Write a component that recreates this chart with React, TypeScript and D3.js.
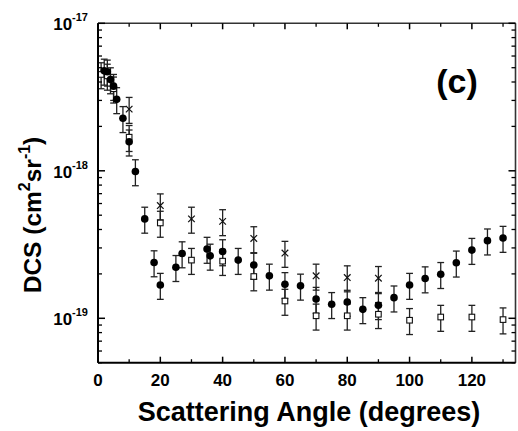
import React from 'react';
import * as d3 from 'd3';

// filled circles
const circAngles = [2, 3, 4, 5, 6, 8, 10, 12, 15, 18, 20, 25, 27, 35, 36, 40, 45, 50, 55, 60, 65, 70, 75, 80, 85, 90, 95, 100, 105, 110, 115, 120, 125, 130];
const circDCS = [4.76e-18, 4.69e-18, 4.16e-18, 3.75e-18, 3.05e-18, 2.27e-18, 1.575e-18, 9.9e-19, 4.72e-19, 2.39e-19, 1.68e-19, 2.22e-19, 2.75e-19, 2.95e-19, 2.65e-19, 2.84e-19, 2.48e-19, 2.3e-19, 1.94e-19, 1.7e-19, 1.66e-19, 1.35e-19, 1.245e-19, 1.29e-19, 1.15e-19, 1.225e-19, 1.38e-19, 1.68e-19, 1.86e-19, 1.99e-19, 2.38e-19, 2.9e-19, 3.36e-19, 3.5e-19];

// open squares
const sqAngles = [1, 3, 5, 10, 20, 30, 40, 50, 60, 70, 80, 90, 100, 110, 120, 130];
const sqDCS = [4.5e-18, 4.4e-18, 3.6e-18, 1.69e-18, 4.43e-19, 2.48e-19, 2.44e-19, 1.92e-19, 1.31e-19, 1.04e-19, 1.04e-19, 1.065e-19, 9.7e-20, 1.02e-19, 1.02e-19, 9.8e-20];

// crosses
const crossAngles = [10, 20, 30, 40, 50, 60, 70, 80, 90];
const crossDCS = [2.62e-18, 5.81e-19, 4.72e-19, 4.54e-19, 3.48e-19, 2.77e-19, 1.94e-19, 1.89e-19, 1.87e-19];

// relative uncertainty shown by the error bars (~20%)
const REL_ERR = 0.2;

const xTicks = [0, 20, 40, 60, 80, 100, 120];
const xMinor = [10, 30, 50, 70, 90, 110, 130];
const yMajor = [1e-19, 1e-18, 1e-17];
const yExp = ['-19', '-18', '-17'];

const W = 518;
const H = 431;
const FONT = "'Liberation Sans', Arial, Helvetica, sans-serif";

const App = () => {
  const x = d3.scaleLinear().domain([0, 134]).range([98, 515.5]);
  const y = d3.scaleLog().domain([5e-20, 1e-17]).range([362.7, 23.3]);
  const [x0, x1] = x.range();
  const [y0, y1] = y.range();
  const yMinor = y.ticks().filter(v => !yMajor.some(m => Math.abs(m - v) / m < 1e-6));

  const errBar = (a: number, v: number, key: string) => {
    const cx = x(a);
    const top = y(v * (1 + REL_ERR));
    const bot = y(v * (1 - REL_ERR));
    return (
      <g key={key} stroke="#222" strokeWidth={1.3}>
        <line x1={cx} x2={cx} y1={top} y2={bot} />
        <line x1={cx - 3.4} x2={cx + 3.4} y1={top} y2={top} />
        <line x1={cx - 3.4} x2={cx + 3.4} y1={bot} y2={bot} />
      </g>
    );
  };

  return (
    <div style={{ position: 'absolute', left: 0, top: 0 }}>
      <svg width={W} height={H} style={{ display: 'block', background: '#fff' }} fontFamily={FONT}>
        {/* error bars */}
        {crossAngles.map((a, i) => errBar(a, crossDCS[i], 'ce' + i))}
        {sqAngles.map((a, i) => errBar(a, sqDCS[i], 'se' + i))}
        {circAngles.map((a, i) => errBar(a, circDCS[i], 'fe' + i))}

        {/* crosses */}
        {crossAngles.map((a, i) => {
          const cx = x(a), cy = y(crossDCS[i]);
          return (
            <g key={'c' + i} stroke="#111" strokeWidth={1.2}>
              <line x1={cx - 3.3} x2={cx + 3.3} y1={cy - 3.3} y2={cy + 3.3} />
              <line x1={cx - 3.3} x2={cx + 3.3} y1={cy + 3.3} y2={cy - 3.3} />
            </g>
          );
        })}

        {/* open squares */}
        {sqAngles.map((a, i) => (
          <rect key={'s' + i} x={x(a) - 2.8} y={y(sqDCS[i]) - 2.8} width={5.6} height={5.6}
            fill="#fff" stroke="#111" strokeWidth={1.1} />
        ))}

        {/* filled circles */}
        {circAngles.map((a, i) => (
          <circle key={'f' + i} cx={x(a)} cy={y(circDCS[i])} r={3.8} fill="#000" />
        ))}

        {/* frame */}
        <line x1={x0} x2={x1} y1={y1} y2={y1} stroke="#333" strokeWidth={1.6} />
        <line x1={x1} x2={x1} y1={y1} y2={y0} stroke="#333" strokeWidth={1.6} />
        <line x1={x0} x2={x1} y1={y0} y2={y0} stroke="#000" strokeWidth={2} />
        <line x1={x0} x2={x0} y1={y1} y2={y0} stroke="#000" strokeWidth={2} />

        {/* x ticks, bottom and top */}
        {xTicks.map(t => (
          <g key={'xt' + t} stroke="#000" strokeWidth={1.5}>
            <line x1={x(t)} x2={x(t)} y1={y0} y2={y0 - 6} />
            <line x1={x(t)} x2={x(t)} y1={y1} y2={y1 + 6} />
          </g>
        ))}
        {xMinor.map(t => (
          <g key={'xm' + t} stroke="#000" strokeWidth={1.3}>
            <line x1={x(t)} x2={x(t)} y1={y0} y2={y0 - 3.5} />
            <line x1={x(t)} x2={x(t)} y1={y1} y2={y1 + 3.5} />
          </g>
        ))}
        {xTicks.map(t => (
          <text key={'xl' + t} x={x(t)} y={386} textAnchor="middle" fontSize={17} fontWeight="bold">{t}</text>
        ))}

        {/* y ticks, left and right */}
        {yMajor.map(v => (
          <g key={'ym' + v} stroke="#000" strokeWidth={1.5}>
            <line x1={x0} x2={x0 + 7} y1={y(v)} y2={y(v)} />
            <line x1={x1} x2={x1 - 7} y1={y(v)} y2={y(v)} />
          </g>
        ))}
        {yMinor.map((v, i) => (
          <g key={'yn' + i} stroke="#000" strokeWidth={1.3}>
            <line x1={x0} x2={x0 + 4} y1={y(v)} y2={y(v)} />
            <line x1={x1} x2={x1 - 4} y1={y(v)} y2={y(v)} />
          </g>
        ))}
        {yMajor.map((v, i) => (
          <text key={'yl' + i} x={88} y={y(v) + 7} textAnchor="end" fontSize={17} fontWeight="bold">
            10<tspan dy={-9} fontSize={11}>{yExp[i]}</tspan>
          </text>
        ))}

        {/* panel label */}
        <text x={457} y={93} textAnchor="middle" fontSize={34} fontWeight="bold">(c)</text>

        {/* axis titles */}
        <text x={309} y={421} textAnchor="middle" fontSize={27} fontWeight="bold">Scattering Angle (degrees)</text>
        <text transform="translate(41,215) rotate(-90)" textAnchor="middle" fontSize={24.5} fontWeight="bold">
          DCS (cm<tspan dy={-11} fontSize={16}>2</tspan><tspan dy={11}>sr</tspan><tspan dy={-11} fontSize={16}>-1</tspan><tspan dy={11}>)</tspan>
        </text>
      </svg>
    </div>
  );
};

export default App;
